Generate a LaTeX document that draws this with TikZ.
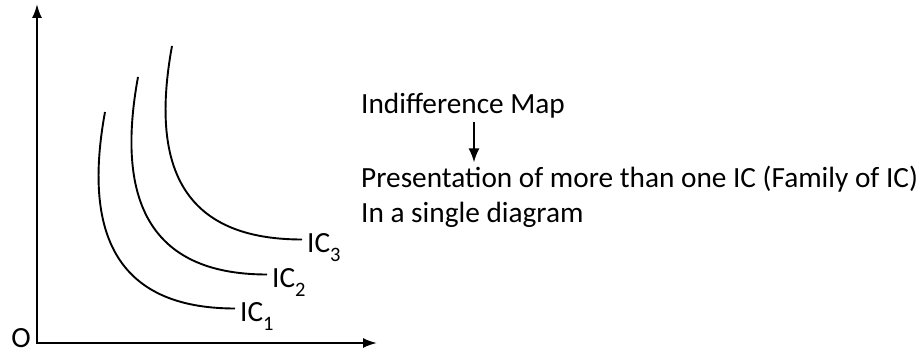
\documentclass[tikz,border=0pt]{standalone}
\usepackage{fontspec}
\setmainfont{Carlito}
\usetikzlibrary{arrows.meta,positioning,calc}
\tikzset{
  axes/.style={{Latex[length=14pt,width=10pt]}-{Latex[length=14pt,width=10pt]},line width=2pt},
  curve/.style={line width=1.9pt},
  arr/.style={-{Latex[length=14pt,width=11pt]},line width=1.8pt},
  txt/.style={inner sep=0pt,anchor=base west,font=\fontsize{29.3}{35}\selectfont},
  iclabel/.style={inner xsep=5pt,inner ysep=0pt,anchor=base west,text height=27pt,text depth=0pt,font=\fontsize{29.3}{35}\selectfont}
}
\newcommand{\icsub}[1]{IC\smash{\raisebox{-9pt}{\fontsize{20.5}{20.5}\selectfont #1}}}

\begin{document}
\begin{tikzpicture}[x=1pt,y=-1pt]
  \useasboundingbox (0,0) rectangle (924,355);
  \coordinate (ytop) at (37,4);
  \coordinate (xend) at (377,343);
  \draw[axes] (ytop) |- (xend);
  \node[txt,anchor=base] (o) at (21,348) {O};

  \node[iclabel] (ic1) at (235,322) {\icsub{1}};
  \node[iclabel] (ic2) at (267,288) {\icsub{2}};
  \node[iclabel] (ic3) at (302,253) {\icsub{3}};
  \coordinate (s1) at (105,112);
  \coordinate (s2) at (138,77);
  \coordinate (s3) at (172,46);
  \foreach \i in {1,2,3}
    \draw[curve] (s\i) .. controls +(-22,120) and +(-120,0) .. (ic\i.west);

  \node[txt] (map) at (361,114) {Indifference Map};
  \node[txt] (pres) at (361,188) {Presentation of more than one IC (Family of IC)};
  \node[txt] (single) at (361,223) {In a single diagram};
  \draw[arr,shorten <=3pt,shorten >=4pt] ([xshift=113pt]map.south west) -- ([xshift=113pt]pres.north west);
\end{tikzpicture}
\end{document}
